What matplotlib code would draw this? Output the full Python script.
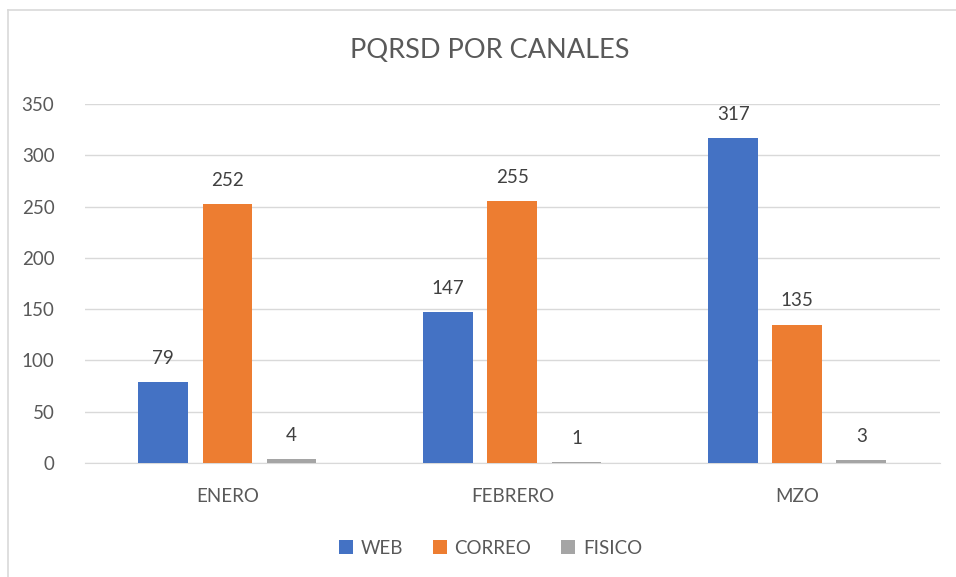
import matplotlib.pyplot as plt
import numpy as np

meses = ['ENERO', 'FEBRERO', 'MZO']
web = [79, 147, 317]
correo = [252, 255, 135]
fisico = [4, 1, 3]
series = ['WEB', 'CORREO', 'FISICO']
colores = ['#4472C4', '#ED7D31', '#A5A5A5']

plt.rcParams['font.family'] = ['Lato', 'DejaVu Sans']
texto = '#595959'

fig = plt.figure(figsize=(9.56, 5.77), dpi=100)
ax = fig.add_axes([0.0889, 0.1976, 0.8941, 0.6222])

x = np.arange(len(meses))
ancho = 0.175
paso = 0.225
for i, (datos, nombre) in enumerate(zip([web, correo, fisico], series)):
    barras = ax.bar(x + (i - 1) * paso, datos, ancho, color=colores[i], label=nombre, zorder=3)
    for b, v in zip(barras, datos):
        ax.annotate(str(v), (b.get_x() + b.get_width() / 2, v), xytext=(0, 11),
                    textcoords='offset points', ha='center', va='bottom',
                    fontsize=13.5, color='#404040')

ax.set_xlim(-0.5, 2.5)
ax.set_ylim(0, 350)
ax.set_yticks(range(0, 351, 50))
ax.set_xticks(x)
ax.set_xticklabels(meses)
ax.tick_params(axis='both', length=0, labelsize=13.5, colors=texto)
ax.tick_params(axis='y', pad=22)
ax.tick_params(axis='x', pad=18)
ax.grid(axis='y', color='#D9D9D9', linewidth=1, zorder=0)
for s in ['top', 'right', 'left']:
    ax.spines[s].set_visible(False)
ax.spines['bottom'].set_color('#D9D9D9')

fig.text(0.512, 0.912, 'PQRSD POR CANALES', ha='center', va='center', fontsize=19.5, color=texto)

leg = fig.legend(loc='center', bbox_to_anchor=(0.513, 0.05), ncol=3, frameon=False,
                 fontsize=13.5, handlelength=0.75, handleheight=0.75, columnspacing=1.6,
                 handletextpad=0.4)
for t in leg.get_texts():
    t.set_color(texto)

# borde del área del gráfico
fig.add_artist(plt.Line2D([8 / 956, 8 / 956], [0, 1 - 10 / 577], color='#D9D9D9', lw=1.2))
fig.add_artist(plt.Line2D([8 / 956, 1], [1 - 10 / 577, 1 - 10 / 577], color='#D9D9D9', lw=1.2))

fig.savefig('out.png', dpi=100)
